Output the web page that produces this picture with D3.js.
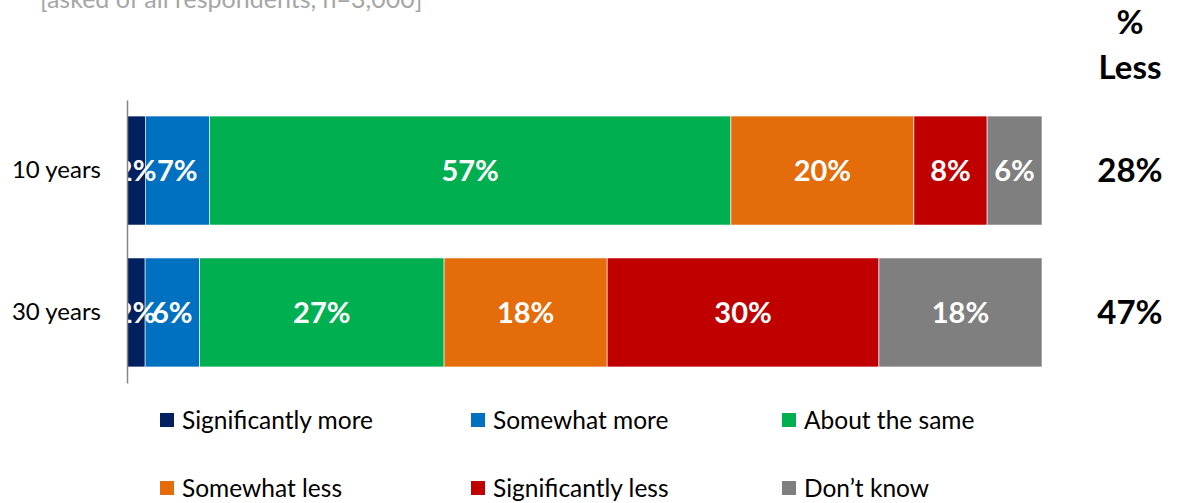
<!DOCTYPE html>
<html>
<head>
<meta charset="utf-8">
<script src="https://cdn.jsdelivr.net/npm/d3@7"></script>
<style>
  html, body { margin: 0; padding: 0; background: #fff; }
  svg { display: block; font-family: Lato, "Open Sans", sans-serif; }
</style>
</head>
<body>
<svg id="chart" width="1179" height="503"></svg>
<script>
// Survey question breakdown by horizon
const horizons = ["10 years", "30 years"];
const responses = ["Significantly more", "Somewhat more", "About the same", "Somewhat less", "Significantly less", "Don\u2019t know"];
const tenYears = [2, 7, 57, 20, 8, 6];
const thirtyYears = [2, 6, 27, 18, 30, 18];
const lessShare = [28, 47];
const colors = ["#002060", "#0070C0", "#00B050", "#E46C0A", "#C00000", "#7F7F7F"];
const subtitle = "[asked of all respondents, n=3,000]";

const rows = [tenYears, thirtyYears].map((vals, i) => {
  const r = { horizon: horizons[i] };
  responses.forEach((k, j) => r[k] = vals[j]);
  return r;
});

const svg = d3.select("#chart");
const W = 1179;
const margin = { left: 127, right: 137 };

const x = d3.scaleLinear().domain([0, 1]).range([margin.left, W - margin.right]);
const y = d3.scaleBand().domain(horizons).range([100, 383]).paddingInner(0.232).paddingOuter(0.113);

// each row normalised to its own total
const series = d3.stack().keys(responses).offset(d3.stackOffsetExpand)(rows);
const color = d3.scaleOrdinal().domain(responses).range(colors);

// subtitle, partly above the visible area
svg.append("text")
  .attr("x", 40).attr("y", 8)
  .attr("fill", "#a6a6a6").attr("font-size", 25)
  .text(subtitle);

const groups = svg.selectAll("g.series").data(series).join("g")
  .attr("class", "series").attr("fill", d => color(d.key));

groups.selectAll("rect").data(d => d).join("rect")
  .attr("x", d => x(d[0]))
  .attr("width", d => x(d[1]) - x(d[0]))
  .attr("y", d => y(d.data.horizon))
  .attr("height", y.bandwidth())
  .attr("stroke", "#ffffff").attr("stroke-width", 0.6);

// value labels, centred in each segment
series.forEach(s => {
  svg.append("g").selectAll("text").data(s).join("text")
    .attr("x", d => (x(d[0]) + x(d[1])) / 2)
    .attr("y", d => y(d.data.horizon) + y.bandwidth() / 2)
    .attr("dy", "0.36em")
    .attr("text-anchor", "middle")
    .attr("fill", "#fff").attr("font-weight", 700).attr("font-size", 29)
    .text(d => d.data[s.key] + "%");
});

// category axis
const yAxis = svg.append("g").attr("transform", `translate(${margin.left},0)`)
  .call(d3.axisLeft(y).tickSize(0).tickPadding(26));
yAxis.select(".domain").attr("stroke", "#868686").attr("stroke-width", 1.5);
yAxis.selectAll("text").attr("font-size", 24).attr("fill", "#000")
  .attr("font-family", "Lato, 'Open Sans', sans-serif");

// "% Less" column
const lessX = 1130;
svg.append("text").attr("x", lessX).attr("y", 34).attr("text-anchor", "middle")
  .attr("font-weight", 700).attr("font-size", 33).text("%");
svg.append("text").attr("x", lessX).attr("y", 79).attr("text-anchor", "middle")
  .attr("font-weight", 700).attr("font-size", 33).text("Less");
svg.append("g").selectAll("text").data(lessShare).join("text")
  .attr("x", lessX)
  .attr("y", (d, i) => y(horizons[i]) + y.bandwidth() / 2)
  .attr("dy", "0.36em").attr("text-anchor", "middle")
  .attr("font-weight", 700).attr("font-size", 33)
  .text(d => d + "%");

// legend, three per row
const legend = svg.append("g").selectAll("g").data(responses).join("g")
  .attr("transform", (d, i) => `translate(${160 + (i % 3) * 311},${420 + Math.floor(i / 3) * 68})`);
legend.append("rect").attr("x", 0).attr("y", -7).attr("width", 14).attr("height", 14)
  .attr("fill", d => color(d));
legend.append("text").attr("x", 22).attr("dy", "0.35em")
  .attr("font-size", 24.5).attr("fill", "#000").text(d => d);
</script>
</body>
</html>
